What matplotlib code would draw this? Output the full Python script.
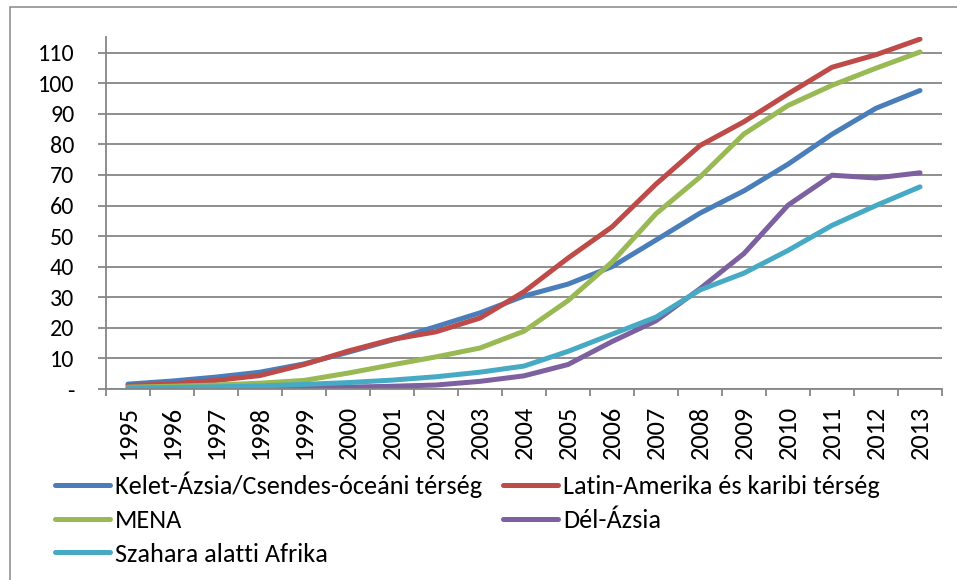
import matplotlib
matplotlib.use("Agg")
import matplotlib.pyplot as plt
from matplotlib import font_manager
from matplotlib.patches import Rectangle
from matplotlib.ticker import FixedLocator, NullFormatter, FixedFormatter

years = [str(y) for y in range(1995, 2014)]

kelet_azsia = [1.6, 2.6, 3.9, 5.5, 8.2, 12.0, 16.0, 20.4, 24.9, 30.4, 34.3, 40.0,
               48.7, 57.5, 64.8, 73.5, 83.3, 91.8, 97.6]
latin_amerika = [1.1, 1.7, 2.8, 4.4, 8.0, 12.4, 16.2, 18.7, 23.2, 31.8, 42.8, 53.0,
                 67.0, 79.6, 87.4, 96.5, 105.2, 109.3, 114.4]
mena = [0.6, 0.9, 1.3, 1.9, 2.8, 5.2, 7.9, 10.5, 13.4, 18.9, 28.9, 41.5,
        57.3, 69.3, 83.4, 92.7, 99.3, 104.9, 110.2]
del_azsia = [0.1, 0.15, 0.2, 0.3, 0.4, 0.6, 0.9, 1.3, 2.5, 4.3, 8.0, 15.5,
             22.3, 32.8, 44.3, 60.1, 69.9, 69.0, 70.7]
szahara = [0.3, 0.5, 0.7, 1.0, 1.5, 2.1, 2.9, 4.0, 5.5, 7.5, 12.3, 17.9,
           23.5, 32.4, 37.9, 45.3, 53.5, 60.0, 66.1]

series = [
    ("Kelet-Ázsia/Csendes-óceáni térség", kelet_azsia, "#4A7EBB"),
    ("Latin-Amerika és karibi térség", latin_amerika, "#BE4B48"),
    ("MENA", mena, "#98B954"),
    ("Dél-Ázsia", del_azsia, "#7D60A0"),
    ("Szahara alatti Afrika", szahara, "#46AAC5"),
]

y_ticks = list(range(0, 111, 10))
y_labels = ["-"] + [str(v) for v in y_ticks[1:]]


def pick(cands, default):
    avail = {f.name for f in font_manager.fontManager.ttflist}
    for c in cands:
        if c in avail:
            return c
    return default


font = pick(["Carlito", "Calibri", "Lato"], "DejaVu Sans")
plt.rcParams["font.family"] = [font, "DejaVu Sans"]

grid_col = "#868686"

fig = plt.figure(figsize=(9.57, 5.8), dpi=100)

# chart frame (only the left and top edges fall inside the image)
fig.patches.append(Rectangle((10 / 957, -0.1), 1.2, 1 - 7.3 / 580 + 0.1,
                             transform=fig.transFigure, fill=False,
                             edgecolor="#888888", linewidth=1.1))

ax = fig.add_axes([106 / 957, 1 - 389 / 580, 836 / 957, (389 - 37.3) / 580])

x = list(range(len(years)))
for name, vals, col in series:
    ax.plot(x, vals, color=col, linewidth=3.6, solid_capstyle="round",
            solid_joinstyle="round", label=name)

ax.set_xlim(-0.5, len(years) - 0.5)
ax.set_ylim(0, 115)

for s in ("top", "right"):
    ax.spines[s].set_visible(False)
for s in ("left", "bottom"):
    ax.spines[s].set_color(grid_col)
    ax.spines[s].set_linewidth(1.3)

ax.yaxis.set_major_locator(FixedLocator(y_ticks))
ax.yaxis.set_major_formatter(FixedFormatter(y_labels))
ax.yaxis.grid(True, color=grid_col, linewidth=1.3)
ax.set_axisbelow(True)
ax.tick_params(axis="y", direction="out", length=5.8, width=1.3, color=grid_col,
               pad=17, labelsize=17.3, labelcolor="black")

ax.xaxis.set_major_locator(FixedLocator([i - 0.5 for i in range(len(years) + 1)]))
ax.xaxis.set_major_formatter(NullFormatter())
ax.xaxis.set_minor_locator(FixedLocator(x))
ax.xaxis.set_minor_formatter(FixedFormatter(years))
ax.tick_params(axis="x", which="major", direction="out", length=5, width=1.3,
               color=grid_col)
ax.tick_params(axis="x", which="minor", length=0, pad=12, labelsize=19,
               labelrotation=90, labelcolor="black")

handles, labels = ax.get_legend_handles_labels()
order = [0, 2, 4, 1, 3]
leg = fig.legend([handles[i] for i in order], [labels[i] for i in order],
                 ncol=2, loc="upper left", bbox_to_anchor=(55 / 957, 1 - 472 / 580),
                 frameon=False, handlelength=2.1, handletextpad=0.19,
                 columnspacing=0.79, labelspacing=0.4, borderaxespad=0,
                 borderpad=0, prop={"size": 18.9})

fig.savefig("out.png", dpi=100)
